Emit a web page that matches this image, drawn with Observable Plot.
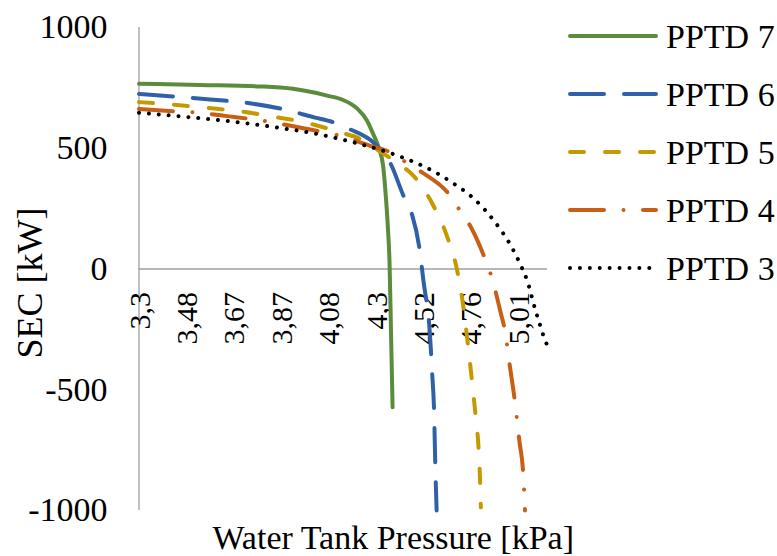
<!DOCTYPE html>
<html><head><meta charset="utf-8">
<script src="https://cdn.jsdelivr.net/npm/d3@7"></script>
<script src="https://cdn.jsdelivr.net/npm/@observablehq/plot@0.6"></script>
<style>
body{margin:0;background:#fff}
#chart{position:relative;width:777px;height:556px;overflow:hidden;background:#fff}
#chart svg{display:block}
#chart svg text{font-family:"Liberation Serif","Times New Roman",Times,serif !important}
</style>
</head><body><div id="chart"></div>
<script>
// Category tick labels of the pressure axis (kPa) and value axis ticks (kW)
const pressureTicks = [3.3, 3.48, 3.67, 3.87, 4.08, 4.3, 4.52, 4.76, 5.01];
const pressureEnd = 5.17;
const secTicks = [-1000, -500, 0, 500, 1000];

const seriesNames = ["PPTD 7", "PPTD 6", "PPTD 5", "PPTD 4", "PPTD 3"];
const seriesColors = ["#5A8C3C", "#3060A8", "#C49A00", "#C75F16", "#000000"];
const seriesDash = [null, "34 20", "14 21", "34 19.5 0.01 19.5", "0.01 9.9"];

const pptd7Pressure = [3.30, 3.535, 3.781, 3.922, 4.073, 4.147, 4.212, 4.258, 4.286, 4.314, 4.333, 4.346, 4.356, 4.363, 4.370, 4.377];
const pptd7SEC      = [767, 762, 756, 746, 718, 700, 665, 615, 561, 499, 428, 296, 159, 22, -276, -572];

const pptd6Pressure = [3.30, 3.437, 3.575, 3.717, 3.872, 4.020, 4.100, 4.170, 4.295, 4.368, 4.427, 4.466, 4.501, 4.520, 4.553, 4.565, 4.574, 4.580, 4.587];
const pptd6SEC      = [725, 714, 702, 689, 663, 627, 608, 582, 518, 436, 304, 229, 90, -48, -270, -440, -586, -806, -1000];

const pptd5Pressure = [3.30, 3.425, 3.563, 3.696, 3.835, 3.989, 4.133, 4.226, 4.318, 4.419, 4.473, 4.520, 4.570, 4.638, 4.689, 4.720, 4.746, 4.766, 4.785, 4.800, 4.808, 4.813];
const pptd5SEC      = [691, 681, 667, 653, 631, 604, 566, 539, 487, 427, 387, 333, 263, 139, 1, -143, -317, -462, -605, -730, -855, -987];

const pptd4Pressure = [3.30, 3.437, 3.506, 3.651, 3.806, 3.962, 4.124, 4.282, 4.365, 4.439, 4.512, 4.655, 4.705, 4.761, 4.835, 4.870, 4.918, 4.940, 4.967, 4.993, 5.016, 5.038, 5.047];
const pptd4SEC      = [663, 653, 649, 632, 612, 584, 553, 508, 484, 442, 401, 304, 242, 173, 42, -34, -182, -255, -407, -552, -710, -855, -1000];

const pptd3Pressure = [3.30, 3.486, 3.684, 3.887, 4.015, 4.148, 4.280, 4.408, 4.537, 4.663, 4.782, 4.888, 4.976, 5.020, 5.060, 5.102, 5.130, 5.157, 5.165];
const pptd3SEC      = [647, 629, 608, 581, 562, 535, 504, 467, 419, 359, 287, 194, 90, 22, -50, -165, -234, -296, -310];

const seriesP = [pptd7Pressure, pptd6Pressure, pptd5Pressure, pptd4Pressure, pptd3Pressure];
const seriesV = [pptd7SEC, pptd6SEC, pptd5SEC, pptd4SEC, pptd3SEC];
const seriesRows = seriesNames.map((name, i) => seriesP[i].map((p, j) => ({series: name, p, sec: seriesV[i][j]})));

const FONT = "Liberation Serif, Times New Roman, Times, serif";
const x0 = 138.5, step = 47.4, xEnd = 547;
const xRange = pressureTicks.map((_, i) => x0 + step * i).concat([xEnd]);

const chart = Plot.plot({
  width: 777, height: 556,
  marginLeft: x0, marginRight: 777 - xEnd, marginTop: 27, marginBottom: 46,
  style: {fontFamily: FONT, fontSize: "34px", color: "#000", background: "#fff", overflow: "visible"},
  x: {type: "linear", domain: [...pressureTicks, pressureEnd], range: xRange, axis: null},
  y: {domain: [-1000, 1000], axis: null},
  marks: [
    Plot.ruleY([0], {stroke: "#a0a0a0", strokeWidth: 1.3}),
    Plot.ruleX([pressureTicks[0]], {y1: -1000, y2: 1000, stroke: "#a0a0a0", strokeWidth: 1.3}),
    Plot.axisY({ticks: secTicks, tickSize: 0, tickPadding: 31.5, tickFormat: d => String(d), label: null,
      fontSize: 34, fontFamily: FONT, fontVariant: "normal", fill: "#000"}),
    Plot.text(pressureTicks, {x: d => d, y: 0, text: d => String(d).replace(".", ","), rotate: -90,
      textAnchor: "end", lineAnchor: "middle", dy: 23, dx: 1, fontSize: 30, fontFamily: FONT, fill: "#000"}),
    ...seriesRows.map((rows, i) => Plot.line(rows, {
      x: "p", y: "sec", stroke: seriesColors[i], strokeWidth: 4,
      strokeDasharray: seriesDash[i], strokeLinecap: "round", curve: "monotone-x"
    })),
    Plot.text(["SEC [kW]"], {frameAnchor: "left", dx: -108.5, dy: 14, rotate: -90,
      textAnchor: "middle", lineAnchor: "middle", fontSize: 36, fontFamily: FONT, fill: "#000"}),
    Plot.text(["Water Tank Pressure [kPa]"], {frameAnchor: "bottom", dx: 50, dy: 28,
      textAnchor: "middle", lineAnchor: "middle", fontSize: 34, fontFamily: FONT, fill: "#000"})
  ]
});
document.getElementById("chart").appendChild(chart);

// Legend on the right side
const leg = d3.select("#chart").append("svg")
  .attr("width", 777).attr("height", 556)
  .style("position", "absolute").style("left", "0px").style("top", "0px")
  .style("pointer-events", "none");
seriesNames.forEach((name, i) => {
  const y = 36 + i * 58;
  leg.append("line")
    .attr("x1", 570).attr("x2", 656).attr("y1", y).attr("y2", y)
    .attr("stroke", seriesColors[i]).attr("stroke-width", 4)
    .attr("stroke-linecap", "round")
    .attr("stroke-dasharray", seriesDash[i]);
  leg.append("text")
    .attr("x", 666).attr("y", y + 11.5)
    .attr("font-family", FONT).attr("font-size", 34).attr("fill", "#000")
    .text(name);
});
</script>
</body></html>
